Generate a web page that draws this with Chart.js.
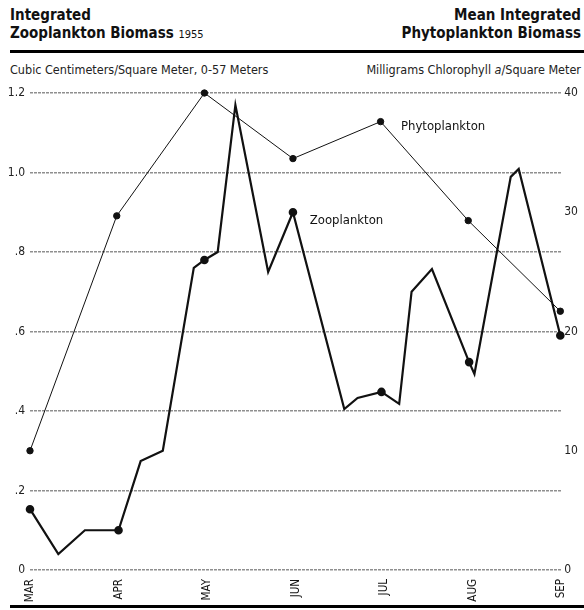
<!DOCTYPE html>
<html>
<head>
<meta charset="utf-8">
<script src="https://cdn.jsdelivr.net/npm/chart.js@4"></script>
<style>
  body { margin: 0; background: #fff; }
  #page { position: relative; width: 584px; height: 610px; overflow: hidden; font-family: "DejaVu Sans Condensed", "Liberation Sans Narrow", "Liberation Sans", sans-serif; color: #111; }
  .head { position: absolute; font-weight: bold; font-size: 15px; line-height: 18px; }
  .sub { position: absolute; font-size: 12.5px; top: 62px; color: #222; }
  .rule { position: absolute; left: 10px; right: 0; background: #000; }
  #chart-box { position: absolute; left: 0; top: 80px; }
</style>
</head>
<body>
<div id="page">
  <div class="head" style="left:10px; top:6px;">Integrated<br>Zooplankton Biomass <span style="font-weight:normal; font-size:11px;">1955</span></div>
  <div class="head" style="right:3px; top:6px; text-align:right;">Mean Integrated<br>Phytoplankton Biomass</div>
  <div class="rule" style="top:50px; height:3px;"></div>
  <div class="sub" style="left:10px;">Cubic Centimeters/Square Meter, 0-57 Meters</div>
  <div class="sub" style="right:3px;">Milligrams Chlorophyll <i>a</i>/Square Meter</div>
  <div id="chart-box"><canvas id="chart" width="584" height="524"></canvas></div>
  <div class="rule" style="top:605px; height:3px;"></div>
</div>
<script>
// mois : 0 = MAR, 6 = SEP
const monthLabels = ["MAR", "APR", "MAY", "JUN", "JUL", "AUG", "SEP"];
const leftTickLabels = ["0", ".2", ".4", ".6", ".8", "1.0", "1.2"];
const rightTickLabels = ["0", "10", "20", "30", "40"];

// Zooplancton (cm3/m2)
const zooMonths = [0, 0.32, 0.62, 1.00, 1.25, 1.50, 1.85, 1.97, 2.12, 2.32, 2.69, 2.97, 3.55, 3.70, 3.97, 4.17, 4.31, 4.54, 4.96, 5.02, 5.43, 5.52, 5.99];
const zooValues = [0.153, 0.040, 0.10, 0.10, 0.274, 0.30, 0.76, 0.78, 0.80, 1.17, 0.75, 0.90, 0.405, 0.433, 0.448, 0.418, 0.70, 0.757, 0.523, 0.493, 0.989, 1.009, 0.59];
const zooDots = [0, 3, 7, 11, 14, 18, 22];

// Phytoplancton (mg chlorophylle a/m2)
const phytoMonths = [0, 0.98, 1.97, 2.97, 3.96, 4.95, 5.99];
const phytoValues = [10, 29.7, 40, 34.5, 37.6, 29.3, 21.7];

const fontFamily = '"DejaVu Sans Condensed", "Liberation Sans Narrow", "Liberation Sans", sans-serif';

// Etiquettes des séries dans le graphique
const seriesLabels = [
    { text: "Phytoplankton", x: 4.19, y: 37.2, axis: "y1" },
    { text: "Zooplankton", x: 3.16, y: 0.88, axis: "y" }
];

const labelPlugin = {
    id: "seriesLabels",
    afterDatasetsDraw(chart) {
        const ctx = chart.ctx;
        ctx.save();
        ctx.font = "13px " + fontFamily;
        ctx.fillStyle = "#111";
        ctx.textBaseline = "middle";
        seriesLabels.forEach((l) => {
            const px = chart.scales.x.getPixelForValue(l.x);
            const py = chart.scales[l.axis].getPixelForValue(l.y);
            ctx.fillText(l.text, px, py);
        });
        ctx.restore();
    }
};

const zooData = zooMonths.map((m, i) => ({ x: m, y: zooValues[i] }));
const phytoData = phytoMonths.map((m, i) => ({ x: m, y: phytoValues[i] }));

new Chart(document.getElementById("chart"), {
    type: "line",
    data: {
        datasets: [
            {
                label: "Zooplankton",
                data: zooData,
                yAxisID: "y",
                borderColor: "#111",
                backgroundColor: "#111",
                borderWidth: 2.2,
                pointRadius: zooData.map((p, i) => zooDots.includes(i) ? 3.2 : 0),
                tension: 0,
                clip: false
            },
            {
                label: "Phytoplankton",
                data: phytoData,
                yAxisID: "y1",
                borderColor: "#111",
                backgroundColor: "#111",
                borderWidth: 1,
                pointRadius: 3.2,
                tension: 0,
                clip: false
            }
        ]
    },
    options: {
        responsive: false,
        animation: false,
        events: [],
        layout: { padding: { top: 13, left: 0, right: 0, bottom: 0 } },
        plugins: { legend: { display: false }, tooltip: { enabled: false } },
        scales: {
            x: {
                type: "linear",
                min: 0,
                max: 6,
                afterFit: (s) => { s.height = 34; },
                afterBuildTicks: (s) => { s.ticks = monthLabels.map((m, i) => ({ value: i })); },
                grid: { display: false, drawTicks: false },
                border: { display: false },
                ticks: {
                    autoSkip: false,
                    minRotation: 90,
                    maxRotation: 90,
                    padding: 9,
                    color: "#111",
                    font: { family: fontFamily, size: 11.5 },
                    callback: (v) => monthLabels[v]
                }
            },
            y: {
                position: "left",
                min: 0,
                max: 1.2,
                afterFit: (s) => { s.width = 30; },
                afterBuildTicks: (s) => { s.ticks = leftTickLabels.map((t, i) => ({ value: i * 0.2 })); },
                border: { display: false, dash: [3, 1] },
                grid: {
                    color: "#8f8f8f",
                    lineWidth: 1.6,
                    tickLength: 3,
                    tickColor: "#fff"
                },
                ticks: {
                    padding: 2,
                    color: "#222",
                    font: { family: fontFamily, size: 12 },
                    callback: (v, i) => leftTickLabels[i]
                }
            },
            y1: {
                position: "right",
                min: 0,
                max: 40,
                afterFit: (s) => { s.width = 17; },
                afterBuildTicks: (s) => { s.ticks = rightTickLabels.map((t, i) => ({ value: i * 10 })); },
                grid: { display: false, drawTicks: false },
                border: { display: false },
                ticks: {
                    padding: 3,
                    color: "#222",
                    font: { family: fontFamily, size: 12 },
                    callback: (v, i) => rightTickLabels[i]
                }
            }
        }
    },
    plugins: [labelPlugin]
});
</script>
</body>
</html>
